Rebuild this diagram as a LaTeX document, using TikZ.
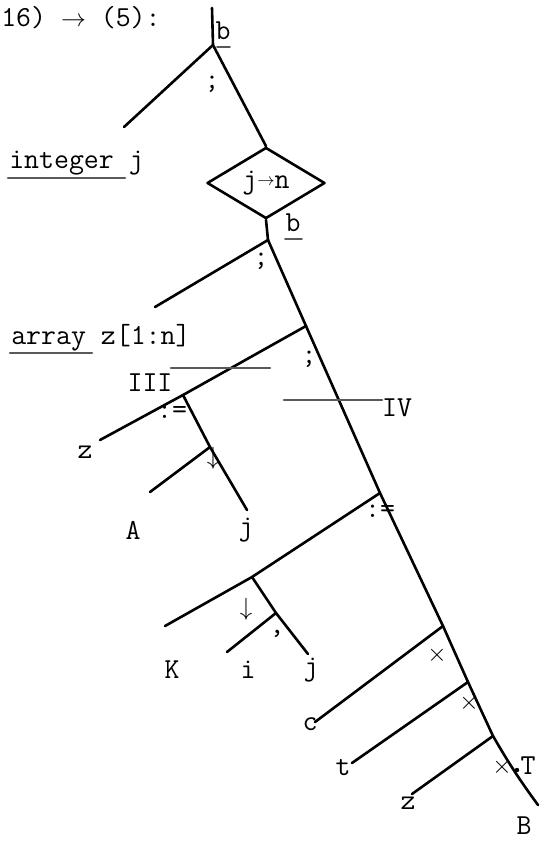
\documentclass[tikz,border=0pt]{standalone}
\usepackage{tikz}
\usetikzlibrary{shapes.geometric}

\begin{document}
\begin{tikzpicture}[x=1pt, y=-1pt, line width=2.6pt, line cap=round, line join=round,
    every node/.style={font=\fontsize{29}{32}\selectfont\ttfamily, inner sep=0pt},
    bar/.style={line width=2.6pt, black!65},
    test/.style={diamond, draw, minimum width=118pt, minimum height=57pt, inner sep=0pt}]
    \useasboundingbox (0,0) rectangle (540,844);
    % heading
    \node[anchor=west] (head) at (0,18) {16) $\rightarrow$ (5):};
    % junctions of the trunk
    \coordinate (top) at (212,8);
    \coordinate (j1) at (213,45);
    \coordinate (j2) at (268,240);
    \coordinate (j3) at (306,326);
    \coordinate (j4) at (183,395);
    \coordinate (j5) at (210,447);
    \coordinate (j6) at (380,493);
    \coordinate (j7) at (252,577);
    \coordinate (j8) at (276,613);
    \coordinate (j9) at (443,626);
    \coordinate (j10) at (468,682);
    \coordinate (j11) at (493,736);
    \coordinate (bot) at (538,805);
    % free ends of the branches
    \coordinate (e1) at (124,127);
    \coordinate (e2) at (155,307);
    \coordinate (e3) at (100,440);
    \coordinate (e4) at (247,510);
    \coordinate (e5) at (150,492);
    \coordinate (e6) at (165,626);
    \coordinate (e7) at (308,654);
    \coordinate (e8) at (227,652);
    \coordinate (e9) at (315,722);
    \coordinate (e10) at (352,763);
    \coordinate (e11) at (412,794);
    \node[test] (jn) at (266,183) {j{\fontsize{18}{18}\selectfont\raisebox{3pt}{$\rightarrow$}}n};

    \draw (top) -- (j1) -- (jn.north);
    \draw (j1) -- (e1);
    \draw (jn.south) -- (j2);
    \draw (j2) -- (e2);
    \draw (j2) -- (j3) -- (j6) -- (j9) -- (j10) -- (j11) to[bend right=3] (bot);
    \draw (j3) -- (j4) -- (e3);
    \draw (j4) -- (j5) -- (e4);
    \draw (j5) -- (e5);
    \draw (j6) -- (j7) -- (e6);
    \draw (j7) -- (j8) -- (e7);
    \draw (j8) -- (e8);
    \foreach \a/\b in {j9/e9, j10/e10, j11/e11}
        \draw (\a) -- (\b);

    % labels
    \node (b1) at (223,31) {b};
    \draw[bar, line width=1.8pt] (217,47) -- (230,47);
    \node (s1) at (212,84) {;};
    \node[anchor=west] (intj) at (8,163) {integer j};
    \draw[bar] (8,178) -- (125,178);
    \node (b2) at (293,223) {b};
    \draw[bar, line width=1.8pt] (285,239) -- (302,239);
    \node (s2) at (261,261) {;};
    \node[anchor=west] (arr) at (10,338) {array z[1:n]};
    \draw[bar] (10,353) -- (92,353);
    \node (s3) at (309,359) {;};
    \draw[bar] (171,368) -- (270,368);
    \node (iii) at (150,383) {III};
    \draw[bar] (284,400) -- (382,400);
    \node (iv) at (397,408) {IV};
    \node (as1) at (172,412) {:=};
    \node (z1) at (85,452) {z};
    \node (d1) at (213,458) {$\downarrow$};
    \node (A) at (133,530) {A};
    \node (jA) at (246,530) {j};
    \node (as2) at (380,511) {:=};
    \node (d2) at (246,609) {$\downarrow$};
    \node (cm) at (277,634) {,};
    \node (K) at (172,670) {K};
    \node (i) at (248,670) {i};
    \node (jK) at (311,670) {j};
    \node (x1) at (437,655) {$\times$};
    \node (c) at (310,724) {c};
    \node (x2) at (469,703) {$\times$};
    \node (t) at (343,768) {t};
    \node (x3) at (502,767) {$\times$};
    \fill (517,770) circle (2.2);
    \node (T) at (528,766) {T};
    \node (z2) at (408,803) {z};
    \node (B) at (524,826) {B};
\end{tikzpicture}
\end{document}
